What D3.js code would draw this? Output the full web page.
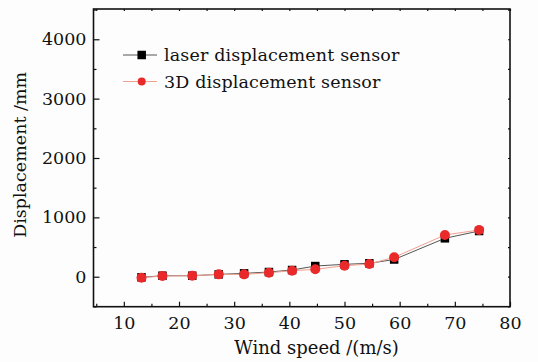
<!DOCTYPE html>
<html><head><meta charset="utf-8">
<script src="https://cdn.jsdelivr.net/npm/d3@7"></script>
<style>body{margin:0;background:#fdfdfd}svg{display:block}text{font-family:"DejaVu Serif",serif;fill:#111}</style>
</head><body>
<script>
const windSpeed = [13.2, 17.0, 22.4, 27.2, 31.8, 36.3, 40.5, 44.7, 50.0, 54.5, 59.0, 68.2, 74.4];
const laser = [-10, 17, 17, 40, 57, 79, 113, 180, 209, 226, 290, 647, 770];
const sensor3D = [-17, 12, 17, 40, 40, 67, 101, 125, 185, 214, 327, 703, 787];
const xTicks = [10, 20, 30, 40, 50, 60, 70, 80];
const yTicks = [0, 1000, 2000, 3000, 4000];
const seriesNames = ["laser displacement sensor", "3D displacement sensor"];

const W = 538, H = 362;
const svg = d3.select("body").append("svg").attr("width", W).attr("height", H);
const L = 93.5, R = 510, T = 9, B = 306.7;
const x = d3.scaleLinear().domain([4.5, 80]).range([L, R]);
const y = d3.scaleLinear().domain([-505, 4510]).range([B, T]);

const fs = 17.5;
const xMinor = d3.range(5, 80.1, 5).filter(v => v % 10 !== 0);
const yMinor = d3.range(-500, 4501, 500).filter(v => v % 1000 !== 0);

const gx = svg.append("g").attr("transform", `translate(0,${B})`)
  .call(d3.axisBottom(x).tickValues(xTicks).tickSize(-5).tickPadding(10).tickFormat(d3.format("d")));
const gxm = svg.append("g").attr("transform", `translate(0,${B})`)
  .call(d3.axisBottom(x).tickValues(xMinor).tickSize(-3).tickFormat(""));
const gxt = svg.append("g").attr("transform", `translate(0,${T})`)
  .call(d3.axisTop(x).tickValues(xTicks.concat(xMinor)).tickSize(-2).tickFormat(""));
const gy = svg.append("g").attr("transform", `translate(${L},0)`)
  .call(d3.axisLeft(y).tickValues(yTicks).tickSize(-6).tickPadding(7).tickFormat(d3.format("d")));
const gym = svg.append("g").attr("transform", `translate(${L},0)`)
  .call(d3.axisLeft(y).tickValues(yMinor).tickSize(-3).tickFormat(""));
const gyr = svg.append("g").attr("transform", `translate(${R},0)`)
  .call(d3.axisRight(y).tickValues(yTicks.concat(yMinor)).tickSize(-2).tickFormat(""));
[gx, gxm, gxt, gy, gym, gyr].forEach(g => {
  g.select(".domain").remove();
  g.selectAll(".tick line").attr("stroke", "#111").attr("stroke-width", 1.2);
  g.selectAll("text").style("font-size", fs + "px").style("font-family", '"DejaVu Serif",serif').attr("fill", "#111");
});
svg.append("rect").attr("x", L).attr("y", T).attr("width", R - L).attr("height", B - T)
  .attr("fill", "none").attr("stroke", "#111").attr("stroke-width", 1.6);

// titles
svg.append("text").attr("x", (233 + 400) / 2).attr("y", 354).attr("text-anchor", "middle")
  .style("font-size", "18px").text("Wind speed /(m/s)");
svg.append("text").attr("transform", `translate(26,${(T + B) / 2 - 3}) rotate(-90)`).attr("text-anchor", "middle")
  .style("font-size", "17.5px").text("Displacement /mm");

// series
const pts = (vals) => windSpeed.map((w, i) => [w, vals[i]]);
const line = d3.line().x(d => x(d[0])).y(d => y(d[1]));
svg.append("path").datum(pts(laser)).attr("d", line).attr("fill", "none").attr("stroke", "#555").attr("stroke-width", 1);
svg.append("path").datum(pts(sensor3D)).attr("d", line).attr("fill", "none").attr("stroke", "#f2a090").attr("stroke-width", 1);
const sq = 8.5;
svg.append("g").selectAll("rect").data(pts(laser)).join("rect")
  .attr("x", d => x(d[0]) - sq / 2).attr("y", d => y(d[1]) - sq / 2).attr("width", sq).attr("height", sq).attr("fill", "#000");
svg.append("g").selectAll("circle").data(pts(sensor3D)).join("circle")
  .attr("cx", d => x(d[0])).attr("cy", d => y(d[1])).attr("r", 5).attr("fill", "#ea2a2a");

// legend
const lg = svg.append("g");
const ly = [55, 81.5];
lg.append("line").attr("x1", 123).attr("x2", 157).attr("y1", ly[0]).attr("y2", ly[0]).attr("stroke", "#555").attr("stroke-width", 1);
lg.append("rect").attr("x", 141.7 - 4.25).attr("y", ly[0] - 4.25).attr("width", sq).attr("height", sq).attr("fill", "#000");
lg.append("line").attr("x1", 123).attr("x2", 157).attr("y1", ly[1]).attr("y2", ly[1]).attr("stroke", "#f2a090").attr("stroke-width", 1);
lg.append("circle").attr("cx", 141.7).attr("cy", ly[1]).attr("r", 4).attr("fill", "#ea2a2a");
seriesNames.forEach((n, i) => {
  lg.append("text").attr("x", 164).attr("y", ly[i]).attr("dy", "0.35em")
    .style("font-size", "17.5px").style("letter-spacing", "0.15px").text(n);
});
</script>
</body></html>
